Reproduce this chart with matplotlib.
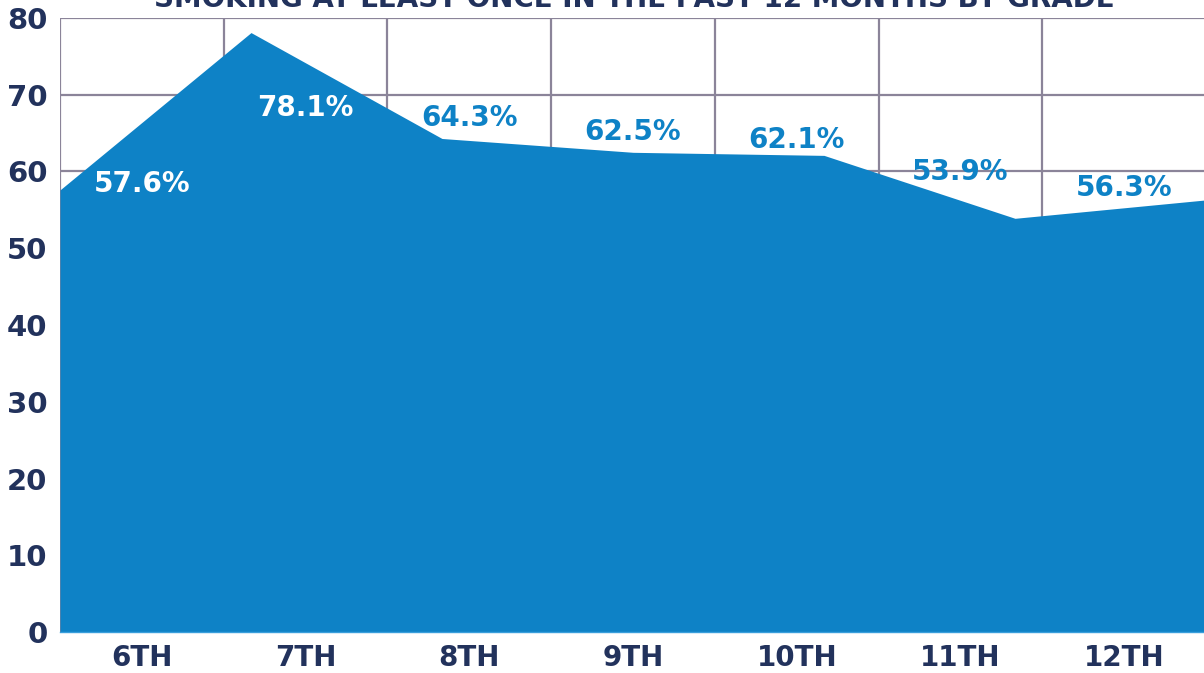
import numpy as np
import matplotlib
matplotlib.use("Agg")
import matplotlib.pyplot as plt

# Data
grades = ["6TH", "7TH", "8TH", "9TH", "10TH", "11TH", "12TH"]
pct = [57.6, 78.1, 64.3, 62.5, 62.1, 53.9, 56.3]
yticks = [0, 10, 20, 30, 40, 50, 60, 70, 80]
title = "SMOKING AT LEAST ONCE IN THE PAST 12 MONTHS BY GRADE"

# Styling
AREA = "#0E82C6"
NAVY = "#22325C"
GRID = "#8B8499"
label_colors = ["white", "white", AREA, AREA, AREA, AREA, AREA]
label_dy = [6, -75, 20, 20, 15, 46, 12]  # pixel offsets of value labels

plt.rcParams["font.family"] = "DejaVu Sans"
plt.rcParams["font.weight"] = "bold"

fig = plt.figure(figsize=(12.04, 6.73), dpi=100)
ax = fig.add_axes([60 / 1204, 41 / 673, 1146 / 1204, 614 / 673])

n = len(grades)
# area vertices are spread over the full width, category labels sit in band centres
xs = np.arange(n) * n / (n - 1)
ax.fill_between(xs, pct, 0, color=AREA, zorder=2, lw=0)

ax.set_xlim(0, n)
ax.set_ylim(0, 80)
ax.set_xticks(np.arange(n + 1), minor=False)
ax.set_xticklabels([])
ax.set_xticks(np.arange(n) + 0.5, minor=True)
ax.set_xticklabels(grades, minor=True)
ax.set_yticks(yticks)
ax.set_yticklabels([str(t) for t in yticks])

ax.grid(True, which="major", color=GRID, lw=1.6, zorder=0)
ax.set_axisbelow(True)
for side in ["left", "right", "top"]:
    ax.spines[side].set_visible(False)
ax.spines["bottom"].set_color("#3A9FDC")
ax.spines["bottom"].set_linewidth(1.0)
ax.spines["bottom"].set_zorder(3)

ax.tick_params(axis="x", which="both", length=0)
ax.tick_params(axis="x", which="minor", pad=9, labelsize=20, labelcolor=NAVY)
ax.tick_params(axis="y", length=0, pad=9, labelsize=21, labelcolor=NAVY)

for i, (v, c, dy) in enumerate(zip(pct, label_colors, label_dy)):
    ax.annotate(f"{v}%", (i + 0.5, v), xytext=(0, dy), textcoords="offset pixels",
                ha="center", va="center", color=c, fontsize=20, fontweight="bold", zorder=4)

fig.text(0.527, 1 - 7 / 673, title, ha="center", va="baseline",
         color=NAVY, fontsize=20, fontweight="bold")

fig.savefig("out.png", dpi=100)
